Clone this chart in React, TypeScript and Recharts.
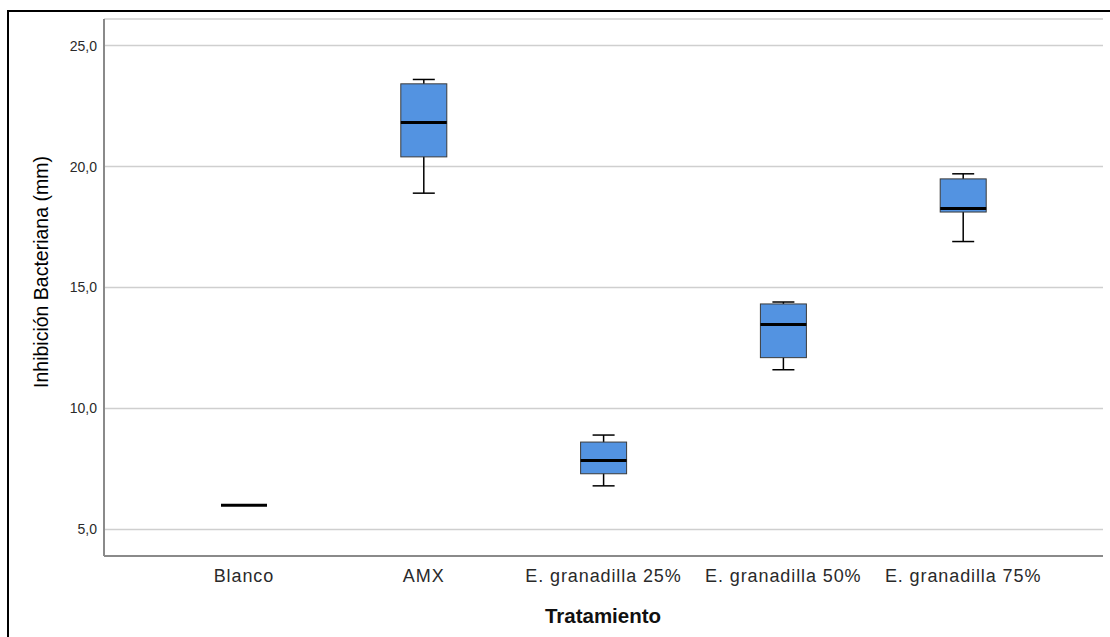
import React from "react";
import { ComposedChart, Bar, XAxis, YAxis, CartesianGrid } from "recharts";

const categories = ["Blanco", "AMX", "E. granadilla 25%", "E. granadilla 50%", "E. granadilla 75%"];
const minVals = [6.0, 18.9, 6.8, 11.6, 16.9];
const q1Vals = [6.0, 20.4, 7.3, 12.1, 18.12];
const medianVals = [6.0, 21.82, 7.85, 13.47, 18.27];
const q3Vals = [6.0, 23.42, 8.61, 14.32, 19.49];
const maxVals = [6.0, 23.6, 8.9, 14.4, 19.7];
const yTicks = [5, 10, 15, 20, 25];

const data = categories.map((name, i) => ({
  name,
  min: minVals[i],
  q1: q1Vals[i],
  median: medianVals[i],
  q3: q3Vals[i],
  max: maxVals[i],
}));

const FONT = "'Liberation Sans', Arial, sans-serif";

const BoxShape = (props: any) => {
  const { x, y, width, height, payload } = props;
  if (x == null || y == null) return null;
  const top = Math.min(y, y + height);
  const bot = Math.max(y, y + height);
  const span = payload.max - payload.min;
  const toPx = (v: number) => (span === 0 ? top : top + ((bot - top) * (payload.max - v)) / span);
  const cx = x + width / 2;
  const capHalf = 11;
  const yQ3 = toPx(payload.q3);
  const yQ1 = toPx(payload.q1);
  const yMed = toPx(payload.median);
  const boxH = yQ1 - yQ3;
  return (
    <g>
      {span > 0 && (
        <g stroke="#000" strokeWidth={1.5}>
          <line x1={cx} x2={cx} y1={top} y2={bot} />
          <line x1={cx - capHalf} x2={cx + capHalf} y1={top} y2={top} />
          <line x1={cx - capHalf} x2={cx + capHalf} y1={bot} y2={bot} />
        </g>
      )}
      {boxH > 0 && (
        <rect x={x} y={yQ3} width={width} height={boxH} fill="#5393e1" stroke="#3a3a3a" strokeWidth={1} />
      )}
      <line x1={x} x2={x + width} y1={yMed} y2={yMed} stroke="#000" strokeWidth={3} />
    </g>
  );
};

export default function App() {
  return (
    <div style={{ position: "fixed", left: 0, top: 0, width: 1110, height: 637, overflow: "hidden", background: "#fff" }}>
      <div
        style={{
          position: "absolute",
          left: 7,
          top: 10,
          width: 1200,
          height: 700,
          border: "2px solid #000",
          boxSizing: "border-box",
        }}
      />
      <div style={{ position: "absolute", left: 0, top: 0 }}>
        <ComposedChart
          width={1110}
          height={637}
          data={data}
          margin={{ top: 19, right: 7, bottom: 21, left: 0 }}
          barSize={46}
        >
          <CartesianGrid horizontal vertical={false} stroke="#cfcfcf" strokeWidth={1.5} />
          <XAxis
            dataKey="name"
            type="category"
            padding={{ left: 50, right: 50 }}
            height={60}
            axisLine={{ stroke: "#8a8a8a", strokeWidth: 2 }}
            tickLine={false}
            tickSize={0}
            tickMargin={13}
            interval={0}
            tick={{ fill: "#2a2a2a", fontSize: 18, fontFamily: FONT, letterSpacing: 0.9 }}
          />
          <YAxis
            type="number"
            domain={[3.9, 26.1]}
            ticks={yTicks}
            width={104}
            axisLine={{ stroke: "#8a8a8a", strokeWidth: 2 }}
            tickLine={false}
            tickSize={0}
            tickMargin={7}
            tickFormatter={(v: number) => v.toFixed(1).replace(".", ",")}
            tick={{ fill: "#2a2a2a", fontSize: 14, fontFamily: FONT }}
          />
          <Bar dataKey={(d: any) => [d.min, d.max]} shape={BoxShape} isAnimationActive={false} />
        </ComposedChart>
      </div>
      <div
        style={{
          position: "absolute",
          left: 41,
          top: 272,
          transform: "translate(-50%, -50%) rotate(-90deg)",
          whiteSpace: "nowrap",
          fontFamily: FONT,
          fontSize: 19.5,
          color: "#000",
        }}
      >
        Inhibición Bacteriana (mm)
      </div>
      <div
        style={{
          position: "absolute",
          left: 603,
          top: 616,
          transform: "translate(-50%, -50%)",
          whiteSpace: "nowrap",
          fontFamily: FONT,
          fontSize: 20.5,
          fontWeight: "bold",
          color: "#111",
        }}
      >
        Tratamiento
      </div>
    </div>
  );
}
